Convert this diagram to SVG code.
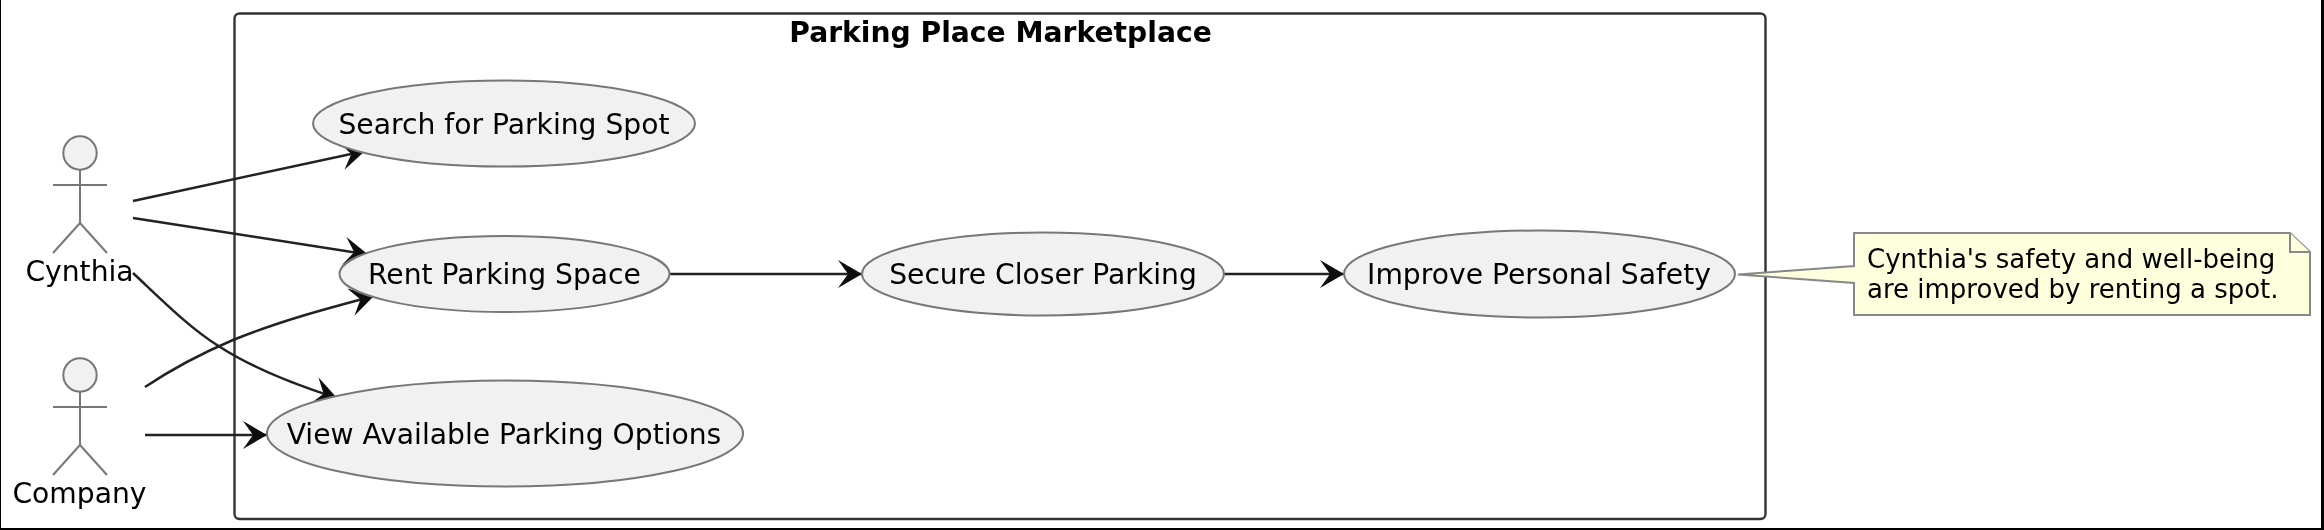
<svg xmlns="http://www.w3.org/2000/svg" width="2324" height="530" viewBox="0 0 2324 530">
<style>
text{font-family:"DejaVu Sans","Liberation Sans",sans-serif;font-size:28.2px;fill:#000}
.uc{fill:#f1f1f1;stroke:#777;stroke-width:2}
.act{fill:none;stroke:#777;stroke-width:2}
.head{fill:#f1f1f1;stroke:#777;stroke-width:2}
.c{fill:none;stroke:#222;stroke-width:2.5}
.m{text-anchor:middle}
.n{font-size:26px}
</style>
<defs>
<marker id="arr" markerUnits="userSpaceOnUse" markerWidth="32" markerHeight="34" refX="25" refY="16" orient="auto">
<path d="M25 16L1 2L11 16L1 30Z" fill="#111"/>
</marker>
<filter id="soft" filterUnits="userSpaceOnUse" x="0" y="0" width="2324" height="530"><feGaussianBlur stdDeviation="0.7"/></filter>
</defs>
<rect x="0" y="0" width="2324" height="530" fill="#fff"/>
<g filter="url(#soft)">
<g id="cluster">
<rect x="234.500" y="13.500" width="1531" height="505.500" rx="5" fill="none" stroke="#333" stroke-width="2.400"/>
<text x="1000.500" y="42" class="m" style="font-weight:700">Parking Place Marketplace</text>
</g>
<g id="connectors">
<path class="c" d="M133 201L365 151" marker-end="url(#arr)"/>
<path class="c" d="M133 218L368 254.500" marker-end="url(#arr)"/>
<path class="c" d="M133 273C165 303 190 328 217 345C250 367 290 383 337 398" marker-end="url(#arr)"/>
<path class="c" d="M145 387C172 369 200 354 233 340C280 321 325 309 374 296" marker-end="url(#arr)"/>
<path class="c" d="M145 435L267 435" marker-end="url(#arr)"/>
<path class="c" d="M670 274L862 274" marker-end="url(#arr)"/>
<path class="c" d="M1224 274L1344 274" marker-end="url(#arr)"/>
</g>
<g id="cynthia">
<circle class="head" cx="80" cy="153" r="16.700"/>
<path class="act" d="M80 170V223M53 185H107M80 223L53 253M80 223L107 253"/>
<text x="79.500" y="281" class="m">Cynthia</text>
</g>
<g id="company">
<circle class="head" cx="80" cy="375" r="16.700"/>
<path class="act" d="M80 392V445M53 407H107M80 445L53 475M80 445L107 475"/>
<text x="79.500" y="503" class="m">Company</text>
</g>
<g id="search">
<ellipse class="uc" cx="504" cy="123.500" rx="191" ry="43"/>
<text x="504" y="134" class="m">Search for Parking Spot</text>
</g>
<g id="rent">
<ellipse class="uc" cx="504.500" cy="274" rx="165" ry="38"/>
<text x="504.500" y="284" class="m">Rent Parking Space</text>
</g>
<g id="view">
<ellipse class="uc" cx="505" cy="433.500" rx="238" ry="53"/>
<text x="504" y="444" class="m">View Available Parking Options</text>
</g>
<g id="secure">
<ellipse class="uc" cx="1043" cy="274" rx="181" ry="41.500"/>
<text x="1043" y="284" class="m">Secure Closer Parking</text>
</g>
<g id="improve">
<ellipse class="uc" cx="1539.500" cy="274" rx="195.500" ry="43.500"/>
<text x="1539" y="284" class="m">Improve Personal Safety</text>
</g>
<g id="note">
<path d="M1738 274.500L1854 266V233H2290L2310 252V315H1854V283Z" fill="#feffdd" stroke="#888" stroke-width="2"/>
<path d="M2290 233V252H2310" fill="#feffdd" stroke="#888" stroke-width="2"/>
<text x="1867" y="268" class="n">Cynthia's safety and well-being</text>
<text x="1867" y="298" class="n">are improved by renting a spot.</text>
</g>
</g>
<rect id="edge-left" x="0" y="0" width="1" height="530" fill="#000"/>
<rect id="edge-bottom" x="0" y="528" width="2324" height="2" fill="#000"/>
<rect id="edge-right" x="2321" y="0" width="3" height="530" fill="#000"/>
</svg>
